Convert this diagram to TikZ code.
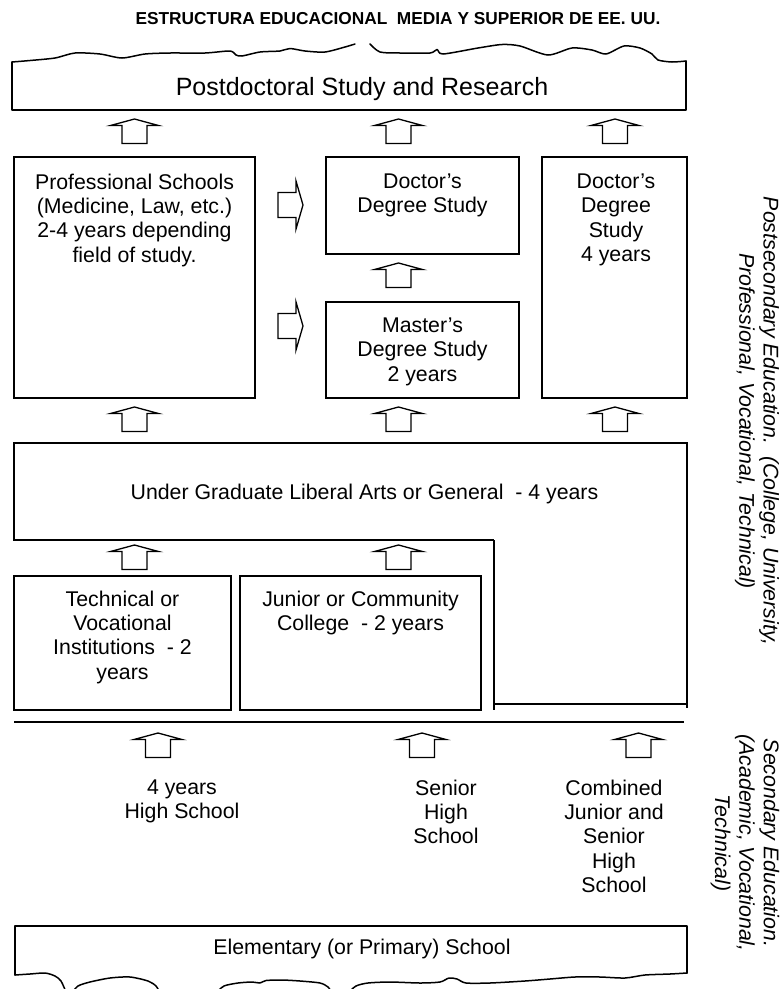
\documentclass[tikz,border=0pt]{standalone}
\usepackage{fontspec}
\setmainfont{Liberation Sans}
\begin{document}
\begin{tikzpicture}[x=1pt,y=-1pt]
\tikzset{
  box/.style={draw, line width=1.5pt, inner sep=0pt, outer sep=0pt},
  txt/.style={font=\fontsize{21.3}{24.4}\selectfont, align=center, inner sep=0pt},
  sidetxt/.style={font=\fontsize{21.3}{24.4}\selectfont\itshape, align=center, inner sep=0pt, rotate=-90},
  blk/.style={draw, line width=1.3pt, line join=miter, fill=white},
  edge/.style={line width=1.5pt, line join=round, line cap=round},
  uparr/.pic={\draw[blk] (0,0) -- (24,6.5) -- (12.5,6.5) -- (12.5,24.5) -- (-12.5,24.5) -- (-12.5,6.5) -- (-24,6.5) -- cycle;},
  rtarr/.pic={\draw[blk] (0,0) -- (-7,-24) -- (-7,-12.5) -- (-25,-12.5) -- (-25,12.5) -- (-7,12.5) -- (-7,24) -- cycle;}
}
\useasboundingbox (0,0) rectangle (784,989);
\fill[white] (0,0) rectangle (784,989);

% title
\node[font=\fontsize{17.3}{20}\selectfont\bfseries, inner sep=0pt, anchor=base] (title) at (398,24)
  {ESTRUCTURA EDUCACIONAL\ \ MEDIA Y SUPERIOR DE EE. UU.};

% top box with torn edge
\draw[edge] (12,62) -- (12,110) -- (686,110) -- (686,61);
\draw[edge] plot[smooth, tension=0.45] coordinates {(12,62) (30,60.5) (55,58) (75,53) (100,54) (122,58) (145,54) (170,53) (205,53) (230,51) (236,55) (242,56) (260,52) (280,51) (290,48.5) (305,51) (325,52) (345,47) (355,44)};
\draw[edge] plot[smooth, tension=0.45] coordinates {(370,44) (380,52) (400,53) (430,53) (437,49.5) (443,54) (478,48) (502,44.5) (520,46) (548,55) (572,48) (592,50) (606,54) (624,46) (640,48) (652,54) (658,60) (672,62) (686,61)};
\node[font=\fontsize{25}{28}\selectfont, inner sep=0pt, anchor=base] (post) at (362,95) {Postdoctoral Study and Research};

% row 1 arrows
\pic at (134.5,119) {uparr};
\pic at (398.5,119) {uparr};
\pic at (615,119) {uparr};

% professional schools
\node[box, minimum width=241pt, minimum height=241pt] (prof) at (134.5,277.5) {};
\node[txt, anchor=north] (proft) at (134.5,173.5) {Professional Schools\\(Medicine, Law, etc.)\\2-4 years depending\\field of study.};

% doctor's degree (middle)
\node[box, minimum width=193pt, minimum height=97pt] (doc) at (422.5,205.5) {};
\node[txt, anchor=north] (doct) at (422.5,173.5) {Doctor’s\\Degree Study};

% master's degree
\node[box, minimum width=193pt, minimum height=96pt] (mas) at (422.5,350) {};
\node[txt, anchor=north] (mast) at (422.5,317.5) {Master’s\\Degree Study\\2 years};

% doctor's degree (right)
\node[box, minimum width=145pt, minimum height=241pt] (rdoc) at (614.5,277.5) {};
\node[txt, anchor=north] (rdoct) at (616,173.5) {Doctor’s\\Degree\\Study\\4 years};

% side arrows
\pic at (303,205) {rtarr};
\pic at (303,326) {rtarr};
\pic at (398.5,263) {uparr};

% row 3 arrows
\pic at (134.5,407) {uparr};
\pic at (398.5,407) {uparr};
\pic at (615,407) {uparr};

% undergraduate L-shape
\draw[edge, line cap=butt, line join=miter] (494,540) -- (14,540) -- (14,443) -- (687,443) -- (687,708);
\draw[edge, line cap=butt] (494,540) -- (494,710);
\draw[edge, line cap=butt] (494,704) -- (687,704);
\node[txt, anchor=base] (ug) at (364.5,499.5) {Under Graduate Liberal Arts or General\ \ - 4 years};

% row 4 arrows
\pic at (134.5,545) {uparr};
\pic at (398.5,545) {uparr};

% technical / junior
\node[box, minimum width=217pt, minimum height=134pt] (tech) at (122.5,643) {};
\node[txt, anchor=north] (techt) at (122.5,590.5) {Technical or\\Vocational\\Institutions\ \ - 2\\years};
\node[box, minimum width=241pt, minimum height=134pt] (jun) at (360.5,643) {};
\node[txt, anchor=north] (junt) at (360.5,590.5) {Junior or Community\\College\ \ - 2 years};

% separator
\draw[edge, line cap=butt] (14,722) -- (684,722);

% secondary arrows
\pic at (158,733) {uparr};
\pic at (422,733) {uparr};
\pic at (638.5,733) {uparr};

\node[txt, anchor=north] (hs4) at (182,779.5) {4 years\\High School};
\node[txt, anchor=north] (shs) at (446,779.5) {Senior\\High\\School};
\node[txt, anchor=north] (cjs) at (614,779.5) {Combined\\Junior and\\Senior\\High\\School};

% elementary with torn edge
\draw[edge] (15,975) -- (15,926) -- (687,926) -- (687,973);
\node[txt, anchor=base] (elem) at (362,954.5) {Elementary (or Primary) School};
\draw[edge] plot[smooth, tension=0.45] coordinates {(15,975) (30,974) (45,973) (55,976) (61,981) (66,992)};
\draw[edge] plot[smooth, tension=0.45] coordinates {(72,993) (78,986) (90,982) (110,978) (130,977) (148,981) (156,986) (160,993)};
\draw[edge] plot[smooth, tension=0.45] coordinates {(216,993) (224,986) (238,983) (252,982) (260,983) (266,980.5) (282,980) (300,981) (320,983) (328,987) (332,993)};
\draw[edge] plot[smooth, tension=0.45] coordinates {(348,993) (356,986) (368,983) (390,982) (420,983) (440,982) (449,978) (457,979) (466,983) (490,983) (525,981) (550,979) (575,977) (600,977) (625,978) (645,975) (670,974) (687,973)};

% side labels
\node[sidetxt] (postsec) at (757,421) {Postsecondary Education.\ \ (College, University,\\Professional, Vocational, Technical)};
\node[sidetxt] (sec) at (745,843) {Secondary Education.\\(Academic, Vocational,\\Technical)};
\end{tikzpicture}
\end{document}
